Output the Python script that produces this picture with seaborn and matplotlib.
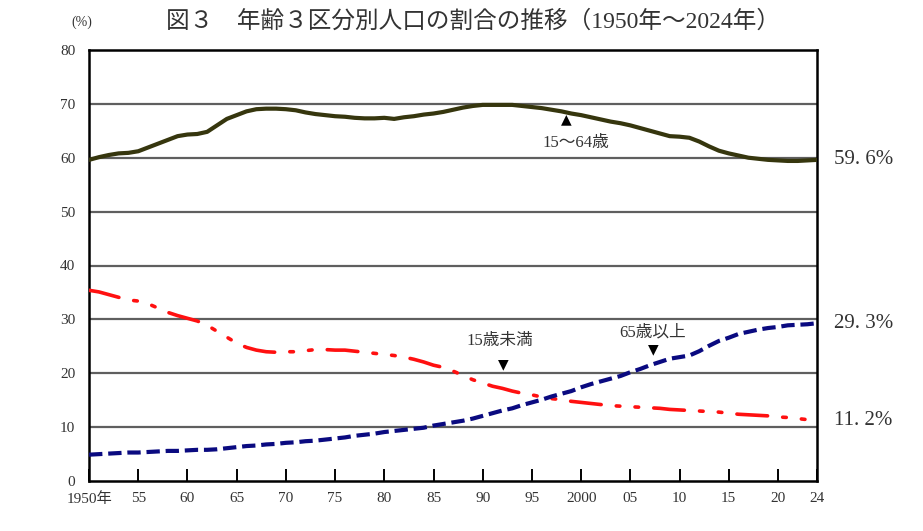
import numpy as np
import pandas as pd
import matplotlib
matplotlib.use("Agg")
import matplotlib.pyplot as plt
import seaborn as sns

# Data (annual, 1950-2024)
years = list(range(1950, 2025))

working_age = [
    59.6, 60.1, 60.5, 60.8, 60.9, 61.2, 61.9, 62.6, 63.3, 64.0,
    64.3, 64.4, 64.8, 66.0, 67.2, 67.9, 68.6, 69.0, 69.1, 69.1,
    69.0, 68.8, 68.4, 68.1, 67.9, 67.7, 67.6, 67.4, 67.3, 67.3,
    67.4, 67.2, 67.5, 67.7, 68.0, 68.2, 68.5, 68.9, 69.3, 69.6,
    69.8, 69.8, 69.8, 69.8, 69.6, 69.4, 69.2, 68.9, 68.6, 68.2,
    67.9, 67.5, 67.1, 66.7, 66.4, 66.0, 65.5, 65.0, 64.5, 64.0,
    63.9, 63.7, 63.0, 62.1, 61.3, 60.8, 60.4, 60.0, 59.8, 59.6,
    59.5, 59.4, 59.4, 59.5, 59.6,
]

children = [
    35.4, 35.1, 34.6, 34.1, 33.6, 33.4, 32.9, 32.1, 31.3, 30.7,
    30.2, 29.7, 28.9, 27.8, 26.7, 25.6, 24.8, 24.3, 24.0, 23.9,
    24.0, 24.0, 24.2, 24.4, 24.4, 24.3, 24.3, 24.1, 23.9, 23.7,
    23.5, 23.3, 23.0, 22.6, 22.1, 21.5, 21.1, 20.4, 19.6, 18.8,
    18.2, 17.6, 17.2, 16.7, 16.3, 16.0, 15.6, 15.3, 15.1, 14.8,
    14.6, 14.4, 14.2, 14.0, 13.9, 13.8, 13.7, 13.6, 13.5, 13.3,
    13.2, 13.1, 13.0, 12.9, 12.8, 12.6, 12.4, 12.3, 12.2, 12.1,
    11.9, 11.8, 11.6, 11.4, 11.2,
]

elderly = [
    4.9, 5.0, 5.1, 5.2, 5.3, 5.3, 5.4, 5.5, 5.6, 5.6,
    5.7, 5.8, 5.8, 5.9, 6.1, 6.3, 6.5, 6.6, 6.8, 6.9,
    7.1, 7.2, 7.4, 7.5, 7.7, 7.9, 8.1, 8.4, 8.6, 8.8,
    9.1, 9.3, 9.5, 9.7, 9.9, 10.3, 10.6, 10.9, 11.2, 11.6,
    12.1, 12.6, 13.1, 13.5, 14.1, 14.6, 15.1, 15.7, 16.2, 16.7,
    17.4, 18.0, 18.5, 19.0, 19.5, 20.2, 20.8, 21.5, 22.1, 22.7,
    23.0, 23.3, 24.1, 25.1, 26.0, 26.6, 27.3, 27.7, 28.1, 28.4,
    28.6, 28.9, 29.0, 29.1, 29.3,
]

tick_years = [1950, 1955, 1960, 1965, 1970, 1975, 1980, 1985, 1990, 1995,
              2000, 2005, 2010, 2015, 2020, 2024]
tick_labels = ["1950年", "55", "60", "65", "70", "75", "80", "85", "90", "95",
               "2000", "05", "10", "15", "20", "24"]

end_labels = ["59. 6%", "29. 3%", "11. 2%"]

df = pd.DataFrame({"year": years, "working": working_age,
                   "children": children, "elderly": elderly})

# Style
sns.set_theme(style="white")
plt.rcParams["font.family"] = ["Liberation Serif", "Noto Sans CJK JP", "DejaVu Sans"]
txt = "#333333"

fig = plt.figure(figsize=(9.23, 5.31), dpi=100)
ax = fig.add_axes([0.0965, 0.094, 0.789, 0.812])

for y in range(10, 80, 10):
    ax.axhline(y, color="#5f5f5f", lw=1.6, zorder=1)

sns.lineplot(data=df, x="year", y="working", ax=ax, color="#36360e", lw=3.0, zorder=3)
sns.lineplot(data=df, x="year", y="children", ax=ax, color="#ff1010", lw=2.6, zorder=3)
ax.lines[-1].set_dashes((8.5, 4.2, 1.0, 4.2, 1.0, 4.2))
ax.lines[-1].set_dash_capstyle("round")
sns.lineplot(data=df, x="year", y="elderly", ax=ax, color="#0a0a80", lw=3.0, zorder=3)
ax.lines[-1].set_dashes((3.2, 1.4))

ax.set_xlim(1950, 2024)
ax.set_ylim(0, 80)
ax.set_xticks(tick_years)
ax.set_xticklabels(tick_labels)
ax.set_yticks(range(0, 90, 10))
ax.tick_params(axis="x", direction="in", length=9, width=1.4, color="black",
               labelsize=11, labelcolor=txt, pad=8, bottom=True)
ax.tick_params(axis="y", length=0, labelsize=11, labelcolor=txt, pad=10)
ax.set_xlabel("")
ax.set_ylabel("")
for s in ax.spines.values():
    s.set_visible(True)
    s.set_color("black")
    s.set_linewidth(1.8)

# end-value labels
for val, lab in zip([working_age[-1], elderly[-1], children[-1]], end_labels):
    ax.text(2025.7, val, lab, fontsize=15, color=txt, va="center", ha="left",
            clip_on=False)

# series annotations
ax.text(1999.5, 62.8, "15～64歳", fontsize=12, color=txt, ha="center", va="center")
ax.text(1998.5, 67.1, "▲", fontsize=10, color="black", ha="center", va="center",
        family="DejaVu Sans")
ax.text(1991.7, 26.0, "15歳未満", fontsize=12, color=txt, ha="center", va="center")
ax.text(1992.1, 21.6, "▼", fontsize=10, color="black", ha="center", va="center",
        family="DejaVu Sans")
ax.text(2007.3, 27.6, "65歳以上", fontsize=12, color=txt, ha="center", va="center")
ax.text(2007.3, 24.4, "▼", fontsize=10, color="black", ha="center", va="center",
        family="DejaVu Sans")

fig.text(0.089, 0.958, "(%)", fontsize=10, color=txt, ha="center", va="center")
fig.text(0.512, 0.960, "図３　年齢３区分別人口の割合の推移（1950年～2024年）",
         fontsize=17, color=txt, ha="center", va="center")

fig.savefig("out.png", dpi=100)
